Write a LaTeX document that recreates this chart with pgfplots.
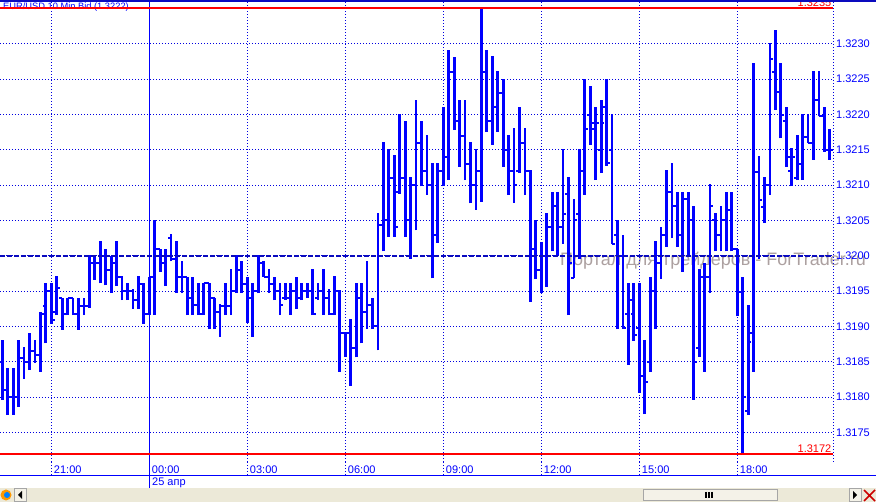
\documentclass[border=0pt]{standalone}
\usepackage{fontspec}
\setmainfont{Liberation Sans}
\usepackage{pgfplots}
\usepackage{pgfplotstable}
\pgfplotsset{compat=1.18}
\definecolor{mtblue}{RGB}{0,0,255}
\definecolor{mtgrid}{RGB}{0,0,225}
\definecolor{mtnavy}{RGB}{10,10,190}
\definecolor{mtred}{RGB}{255,0,0}
\definecolor{xpgray}{RGB}{236,233,216}
\definecolor{wm}{RGB}{172,160,160}

% 10-minute EUR/USD bars; i = bar index, 0 = 00:00 on 25 Apr
\pgfplotstableread{
i o h l c
-27 1.31850 1.31881 1.31796 1.31810
-26 1.31810 1.31841 1.31775 1.31800
-25 1.31800 1.31841 1.31775 1.31800
-24 1.31800 1.31881 1.31786 1.31855
-23 1.31855 1.31871 1.31826 1.31850
-22 1.31850 1.31890 1.31838 1.31865
-21 1.31865 1.31881 1.31848 1.31860
-20 1.31860 1.31921 1.31836 1.31918
-19 1.31929 1.31961 1.31876 1.31950
-18 1.31950 1.31961 1.31904 1.31909
-17 1.31920 1.31971 1.31916 1.31955
-16 1.31940 1.31940 1.31895 1.31918
-15 1.31918 1.31940 1.31916 1.31940
-14 1.31940 1.31940 1.31916 1.31918
-13 1.31918 1.31940 1.31895 1.31929
-12 1.31929 1.31940 1.31916 1.31929
-11 1.31929 1.32001 1.31926 1.31989
-10 1.31989 1.32001 1.31966 1.31989
-9 1.31989 1.32021 1.31961 1.31999
-8 1.31999 1.32010 1.31958 1.31980
-7 1.31980 1.31999 1.31947 1.31990
-6 1.31990 1.32021 1.31957 1.31970
-5 1.31970 1.31971 1.31937 1.31950
-4 1.31950 1.31961 1.31937 1.31950
-3 1.31950 1.31953 1.31925 1.31937
-2 1.31937 1.31971 1.31925 1.31960
-1 1.31960 1.31961 1.31904 1.31918
0 1.31918 1.31970 1.31916 1.31970
1 1.31970 1.32050 1.31916 1.32010
2 1.32010 1.32010 1.31977 1.31990
3 1.31990 1.32010 1.31957 1.31999
4 1.32025 1.32031 1.31992 1.31995
5 1.31995 1.32021 1.31947 1.31970
6 1.31970 1.31992 1.31947 1.31970
7 1.31970 1.31970 1.31916 1.31940
8 1.31940 1.31970 1.31916 1.31930
9 1.31930 1.31961 1.31916 1.31918
10 1.31918 1.31961 1.31916 1.31961
11 1.31961 1.31961 1.31896 1.31940
12 1.31940 1.31940 1.31896 1.31920
13 1.31920 1.31931 1.31885 1.31929
14 1.31929 1.31961 1.31916 1.31929
15 1.31929 1.31981 1.31916 1.31950
16 1.31950 1.32001 1.31947 1.31980
17 1.31980 1.31992 1.31947 1.31960
18 1.31960 1.31970 1.31905 1.31940
19 1.31940 1.31961 1.31885 1.31950
20 1.31950 1.32001 1.31947 1.31990
21 1.31990 1.31992 1.31970 1.31970
22 1.31970 1.31981 1.31947 1.31960
23 1.31960 1.31970 1.31937 1.31950
24 1.31950 1.31961 1.31916 1.31930
25 1.31940 1.31961 1.31937 1.31940
26 1.31940 1.31961 1.31916 1.31950
27 1.31950 1.31970 1.31925 1.31940
28 1.31940 1.31961 1.31937 1.31950
29 1.31950 1.31961 1.31940 1.31950
30 1.31950 1.31981 1.31916 1.31918
31 1.31940 1.31961 1.31937 1.31950
32 1.31950 1.31981 1.31916 1.31940
33 1.31940 1.31953 1.31916 1.31918
34 1.31918 1.31971 1.31916 1.31950
35 1.31950 1.31951 1.31836 1.31890
36 1.31890 1.31891 1.31857 1.31890
37 1.31890 1.31910 1.31816 1.31870
38 1.31870 1.31961 1.31856 1.31940
39 1.31940 1.31961 1.31876 1.31920
40 1.31920 1.31992 1.31896 1.31930
41 1.31930 1.31940 1.31896 1.31900
42 1.31900 1.32060 1.31866 1.32044
43 1.32044 1.32161 1.32006 1.32050
44 1.32050 1.32151 1.32027 1.32110
45 1.32110 1.32142 1.32027 1.32040
46 1.32090 1.32200 1.32088 1.32110
47 1.32110 1.32191 1.32027 1.32050
48 1.32050 1.32112 1.31996 1.32100
49 1.32100 1.32220 1.32036 1.32160
50 1.32160 1.32191 1.32098 1.32120
51 1.32120 1.32171 1.32086 1.32100
52 1.32100 1.32131 1.31968 1.32030
53 1.32030 1.32131 1.32018 1.32120
54 1.32120 1.32211 1.32098 1.32140
55 1.32140 1.32291 1.32107 1.32260
56 1.32260 1.32281 1.32178 1.32190
57 1.32190 1.32220 1.32126 1.32170
58 1.32170 1.32220 1.32107 1.32130
59 1.32130 1.32161 1.32074 1.32100
60 1.32100 1.32151 1.32065 1.32120
61 1.32120 1.32350 1.32076 1.32260
62 1.32260 1.32291 1.32175 1.32190
63 1.32190 1.32282 1.32157 1.32210
64 1.32210 1.32261 1.32175 1.32230
65 1.32230 1.32250 1.32126 1.32150
66 1.32150 1.32171 1.32086 1.32120
67 1.32120 1.32180 1.32075 1.32100
68 1.32120 1.32211 1.32117 1.32160
69 1.32160 1.32180 1.32086 1.32120
70 1.32120 1.32121 1.31935 1.32010
71 1.32010 1.32050 1.31967 1.31980
72 1.31980 1.32020 1.31947 1.32000
73 1.32000 1.32060 1.31956 1.32040
74 1.32040 1.32090 1.32006 1.32070
75 1.32070 1.32090 1.31999 1.32040
76 1.32041 1.32151 1.32017 1.32059
77 1.32088 1.32111 1.31916 1.31989
78 1.31969 1.32080 1.31968 1.32050
79 1.32059 1.32151 1.31996 1.32120
80 1.32120 1.32250 1.32086 1.32179
81 1.32199 1.32240 1.32157 1.32188
82 1.32179 1.32211 1.32107 1.32188
83 1.32150 1.32220 1.32117 1.32188
84 1.32211 1.32250 1.32127 1.32131
85 1.32150 1.32200 1.32017 1.32017
86 1.32029 1.32050 1.31896 1.32000
87 1.32000 1.32030 1.31896 1.31898
88 1.31918 1.31962 1.31846 1.31938
89 1.31918 1.31962 1.31880 1.31888
90 1.31898 1.31962 1.31806 1.31830
91 1.31830 1.31881 1.31776 1.31822
92 1.31850 1.31970 1.31836 1.31950
93 1.31950 1.32021 1.31896 1.31990
94 1.31990 1.32041 1.31967 1.32030
95 1.32030 1.32121 1.32013 1.32090
96 1.32090 1.32131 1.32025 1.32070
97 1.32070 1.32090 1.32013 1.32030
98 1.32030 1.32090 1.31977 1.32080
99 1.32080 1.32090 1.32001 1.32050
100 1.32050 1.32071 1.31796 1.31850
101 1.31870 1.31981 1.31857 1.31970
102 1.31970 1.31990 1.31836 1.31970
103 1.31970 1.32101 1.31947 1.32070
104 1.32050 1.32060 1.32006 1.32030
105 1.32030 1.32071 1.32006 1.32050
106 1.32050 1.32090 1.32006 1.32065
107 1.32065 1.32090 1.32006 1.32010
108 1.32010 1.32010 1.31914 1.31949
109 1.31949 1.31970 1.31720 1.31800
110 1.31780 1.31930 1.31775 1.31878
111 1.31890 1.32272 1.31836 1.32119
112 1.32119 1.32141 1.31996 1.32079
113 1.32069 1.32112 1.32046 1.32100
114 1.32100 1.32301 1.32086 1.32279
115 1.32260 1.32319 1.32206 1.32232
116 1.32232 1.32272 1.32166 1.32199
117 1.32190 1.32210 1.32126 1.32140
118 1.32120 1.32152 1.32098 1.32140
119 1.32110 1.32171 1.32107 1.32130
120 1.32130 1.32200 1.32107 1.32168
121 1.32168 1.32200 1.32160 1.32160
122 1.32160 1.32262 1.32136 1.32220
123 1.32220 1.32262 1.32197 1.32197
124 1.32197 1.32210 1.32147 1.32150
125 1.32150 1.32180 1.32136 1.32150
}\bars

\newcommand\lab{\fontsize{11}{13}\selectfont}

\begin{document}
\begin{tikzpicture}
\path[use as bounding box] (0pt,0pt) rectangle (876pt,-502pt);
\fill[white] (0pt,0pt) rectangle (876pt,-502pt);
% title
\node[anchor=north west, inner sep=0pt, text=mtblue, font=\fontsize{9.3}{11}\selectfont] at (3pt,-2.5pt) {EUR/USD 10 Min Bid (1.3222)};
% watermark
\node[anchor=west, inner sep=0pt, text=wm, font=\fontsize{18}{21}\selectfont] at (560pt,-261pt) {Портал для трейдеров - ForTrader.ru};

\begin{axis}[
  at={(0pt,-2pt)}, anchor=north west,
  scale only axis, width=833pt, height=460pt,
  xmin=-27.42, xmax=125.58,
  ymin=1.317081, ymax=1.323590,
  scaled y ticks=false,
  axis line style={draw=none},
  tick style={draw=none},
  xtick={-18,0,18,36,54,72,90,108},
  xticklabels={21:00,00:00,03:00,06:00,09:00,12:00,15:00,18:00},
  ytick={1.3175,1.3180,1.3185,1.3190,1.3195,1.3200,1.3205,1.3210,1.3215,1.3220,1.3225,1.3230},
  yticklabels={1.3175,1.3180,1.3185,1.3190,1.3195,1.3200,1.3205,1.3210,1.3215,1.3220,1.3225,1.3230},
  yticklabel pos=right,
  grid=major,
  grid style={mtgrid, line width=1pt, dash pattern=on 1pt off 2pt},
  xticklabel style={anchor=north west, inner sep=0pt, xshift=2.5pt, yshift=-4pt, font=\lab, text=mtblue},
  yticklabel style={anchor=west, inner sep=0pt, xshift=3pt, font=\lab, text=mtblue},
  clip=false,
]
% high-low bars
\addplot[mtblue, line width=2.8pt, quiver={u=0, v={\thisrow{h}-\thisrow{l}}}] table[x=i, y=l] {\bars};
% open ticks (left)
\addplot[mtblue, line width=2pt, quiver={u=-0.6, v=0}] table[x=i, y=o] {\bars};
% close ticks (right)
\addplot[mtblue, line width=2pt, quiver={u=0.6, v=0}] table[x=i, y=c] {\bars};

% right axis (dotted) and tick extensions below
\draw[mtgrid, line width=1pt, dash pattern=on 1pt off 2pt] (rel axis cs:1,0) -- (rel axis cs:1,1);
\pgfplotsinvokeforeach{-18,18,36,54,72,90,108}{
  \draw[mtgrid, line width=1pt, dash pattern=on 1pt off 2pt] ({rel axis cs:0,0} -| {axis cs:#1,1.32}) -- ++(0pt,-14pt);
}
% day separator
\draw[mtblue, line width=1pt] ({rel axis cs:0,1} -| {axis cs:0,1.32}) ++(0pt,2pt) -- ({rel axis cs:0,0} -| {axis cs:0,1.32}) -- ++(0pt,-26pt);
% horizontal line 1.3200
\draw[mtnavy, line width=2pt, dash pattern=on 5pt off 2pt] ({rel axis cs:0,0} |- {axis cs:0,1.32}) -- ({rel axis cs:1,0} |- {axis cs:0,1.32});
% high / low lines
\draw[mtred, line width=2pt] ({rel axis cs:0,0} |- {axis cs:0,1.3235}) -- ({rel axis cs:1,0} |- {axis cs:0,1.3235});
\draw[mtred, line width=2pt] ({rel axis cs:0,0} |- {axis cs:0,1.3172}) -- ({rel axis cs:1,0} |- {axis cs:0,1.3172});
\node[anchor=south east, inner sep=0pt, xshift=-1.5pt, yshift=1.2pt, text=mtred, font=\lab] at ({rel axis cs:1,0} |- {axis cs:0,1.3235}) {1.3235};
\node[anchor=south east, inner sep=0pt, xshift=-1.5pt, yshift=1.2pt, text=mtred, font=\lab] at ({rel axis cs:1,0} |- {axis cs:0,1.3172}) {1.3172};
\end{axis}

% top border
\fill[mtnavy] (0pt,0pt) rectangle (876pt,-2pt);
% bottom line and date label
\draw[mtblue, line width=1pt] (0pt,-476pt) -- (876pt,-476pt);
\node[anchor=north west, inner sep=0pt, text=mtblue, font=\lab] at (152pt,-478pt) {25 апр};
% scroll bar strip
\fill[xpgray] (0pt,-488pt) rectangle (876pt,-502pt);
\draw[gray!70, fill=xpgray!60!white] (643.5pt,-489.5pt) rectangle (777.5pt,-500.5pt);
\foreach \xx in {706,709,712} \draw[black, line width=1.2pt] (\xx pt,-492pt) -- (\xx pt,-498pt);
\fill[orange!80!yellow] (6pt,-495pt) circle (5.5pt);
\fill[blue!50!cyan] (7pt,-495pt) circle (3pt);
\draw[gray!70, fill=xpgray!60!white] (14.5pt,-488.5pt) rectangle (26.5pt,-501.5pt);
\fill[black] (18pt,-495pt) -- (22pt,-491pt) -- (22pt,-499pt) -- cycle;
\draw[gray!70, fill=xpgray!60!white] (849.5pt,-488.5pt) rectangle (861.5pt,-501.5pt);
\fill[black] (857pt,-495pt) -- (853pt,-491pt) -- (853pt,-499pt) -- cycle;
\draw[red!80!black, line width=1.5pt] (864pt,-490pt) -- (875pt,-501pt) (875pt,-490pt) -- (864pt,-501pt);
\end{tikzpicture}
\end{document}
